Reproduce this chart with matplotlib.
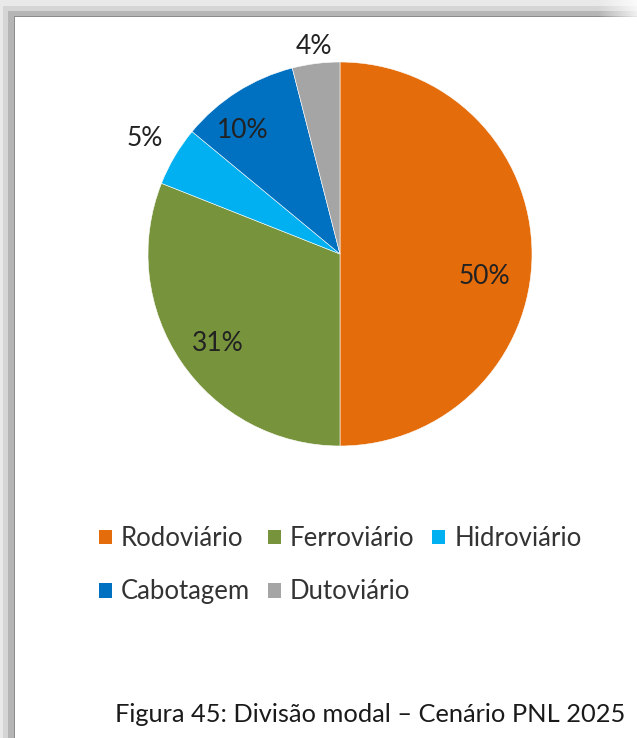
import matplotlib.pyplot as plt
from matplotlib.patches import Rectangle, Patch
import numpy as np

# data
modes = ['Rodoviário', 'Ferroviário', 'Hidroviário', 'Cabotagem', 'Dutoviário']
shares = [50, 31, 5, 10, 4]
colors = ['#E46C0A', '#77933C', '#00B0F0', '#0070C0', '#A5A5A5']
caption = 'Figura 45: Divisão modal – Cenário PNL 2025'

# where the data labels sit: fraction of radius, angle nudge in degrees
label_dist = [0.76, 0.79, 1.18, 0.82, 1.09]
label_nudge = [-9, 2, 0, 6, 0]

W, H = 637, 738
plt.rcParams['font.family'] = ['Lato', 'DejaVu Sans']
fig = plt.figure(figsize=(W / 100, H / 100), dpi=100)

# background axes in pixel units, for the screenshot frame and caption
bg = fig.add_axes([0, 0, 1, 1])
bg.set_xlim(0, W)
bg.set_ylim(H, 0)
bg.axis('off')
for x0, y0, c in [(0, 0, '#e9e9e9'), (3, 6, '#d5d5d5'), (8, 11, '#b5b5b5'), (14, 16, '#8c8c8c'), (15, 17, 'white')]:
    bg.add_patch(Rectangle((x0, y0), W - x0, H - y0, facecolor=c, edgecolor='none'))
# top band fades out on the right
fade = np.zeros((1, 40, 4))
fade[..., :3] = 1
fade[0, :, 3] = np.linspace(0, 0.8, 40)
bg.imshow(fade, extent=(W - 40, W, 17, 0), aspect='auto', zorder=3)

# pie
cx, cy, r = 340, 254, 192
ax = fig.add_axes([(cx - r) / W, 1 - (cy + r) / H, 2 * r / W, 2 * r / H])
wedges, _ = ax.pie(shares, colors=colors, startangle=90, counterclock=False,
                   wedgeprops=dict(edgecolor='white', linewidth=0.4))
ax.set_xlim(-1, 1)
ax.set_ylim(-1, 1)

for w, v, d, n in zip(wedges, shares, label_dist, label_nudge):
    ang = np.deg2rad((w.theta1 + w.theta2) / 2 + n)
    ax.text(d * np.cos(ang), d * np.sin(ang), f'{v}%', ha='center', va='center',
            fontsize=19, color='#222222')

# legend, row-major order like Excel
order = [0, 3, 1, 4, 2]
handles = [Patch(facecolor=colors[i], label=modes[i]) for i in order]
fig.legend(handles=handles, ncol=3, loc='upper left', bbox_to_anchor=(76 / W, 1 - 503 / H),
           frameon=False, fontsize=18.5, handlelength=0.5, handleheight=0.5,
           handletextpad=0.35, columnspacing=0.7, labelspacing=1.1, labelcolor='#333333')

bg.text(370, 714, caption, ha='center', va='center', fontsize=18.3, color='#1a1a1a')

fig.savefig('out.png', dpi=100)
